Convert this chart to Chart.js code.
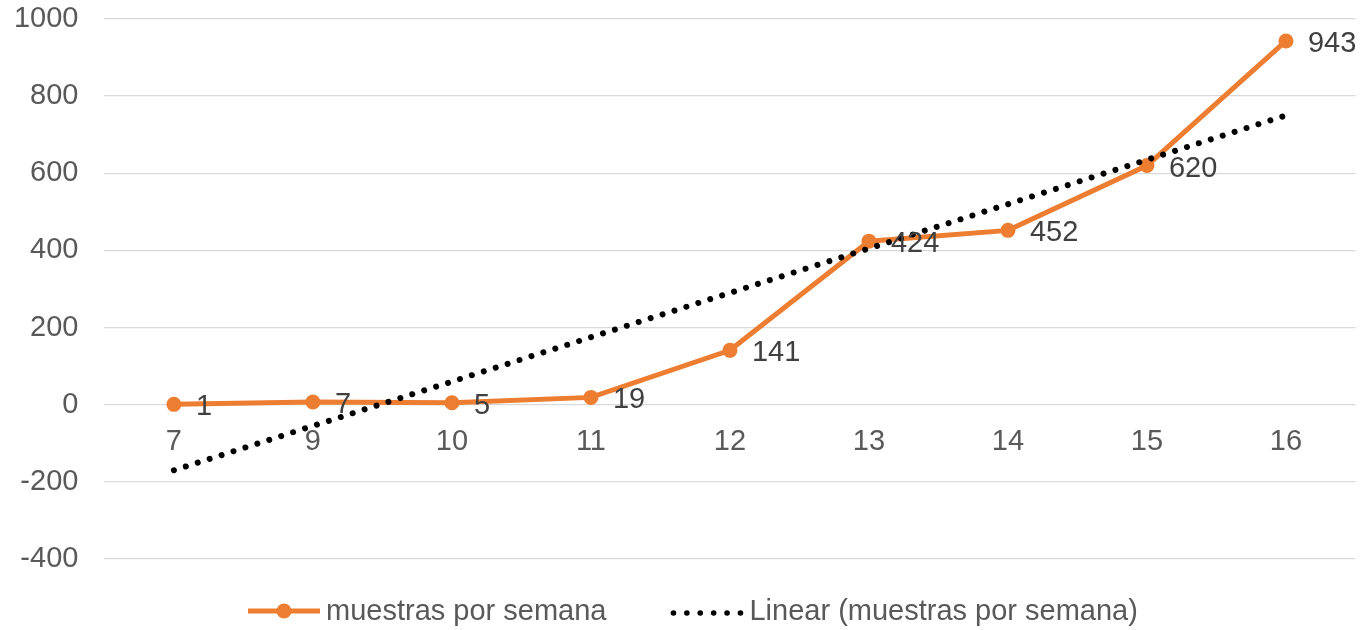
<!DOCTYPE html>
<html>
<head>
<meta charset="utf-8">
<script src="https://cdn.jsdelivr.net/npm/chart.js@4"></script>
<style>
  body { margin: 0; background: #fff; }
  #wrap { width: 1363px; height: 630px; position: relative; }
</style>
</head>
<body>
<div id="wrap"><canvas id="chart"></canvas></div>
<script>
// data
const weeks = ['7', '9', '10', '11', '12', '13', '14', '15', '16'];
const samples = [1, 7, 5, 19, 141, 424, 452, 620, 943];
// trend line ends (first and last week), gaps in between
const trend = [-170, null, null, null, null, null, null, null, 750];
const yTicks = [-400, -200, 0, 200, 400, 600, 800, 1000];

const ORANGE = '#ED7D31';
const FONT = 'Liberation Sans, Arial, sans-serif';

// value labels next to each point
const pointLabels = {
    id: 'pointLabels',
    afterDatasetsDraw(chart) {
        const ctx = chart.ctx;
        const meta = chart.getDatasetMeta(0);
        ctx.save();
        ctx.font = '29px ' + FONT;
        ctx.fillStyle = '#404040';
        ctx.textAlign = 'left';
        ctx.textBaseline = 'middle';
        meta.data.forEach((pt, i) => {
            ctx.fillText(String(samples[i]), pt.x + 22, pt.y + 3);
        });
        ctx.restore();
    }
};

// legend drawn like the Excel one
const bottomLegend = {
    id: 'bottomLegend',
    afterDraw(chart) {
        const ctx = chart.ctx;
        const y = 611;
        ctx.save();
        ctx.font = '29px ' + FONT;
        ctx.fillStyle = '#595959';
        ctx.textAlign = 'left';
        ctx.textBaseline = 'middle';

        // item 1: orange line with marker
        let x = 248;
        ctx.strokeStyle = ORANGE;
        ctx.lineWidth = 5;
        ctx.beginPath();
        ctx.moveTo(x, y);
        ctx.lineTo(x + 72, y);
        ctx.stroke();
        ctx.fillStyle = ORANGE;
        ctx.beginPath();
        ctx.arc(x + 36, y, 7.5, 0, Math.PI * 2);
        ctx.fill();
        ctx.fillStyle = '#595959';
        const t1 = chart.data.datasets[0].label;
        ctx.fillText(t1, x + 78, y + 1);
        x = x + 78 + ctx.measureText(t1).width + 65;

        // item 2: dotted black line
        ctx.fillStyle = '#000';
        for (let i = 0; i < 6; i++) {
            ctx.beginPath();
            ctx.arc(x + 2 + i * 13.4, y + 2, 2.8, 0, Math.PI * 2);
            ctx.fill();
        }
        ctx.fillStyle = '#595959';
        ctx.fillText(chart.data.datasets[1].label, x + 78, y + 1);
        ctx.restore();
    }
};

const ctx = document.getElementById('chart').getContext('2d');

const chart = new Chart(ctx, {
    type: 'line',
    data: {
        labels: weeks,
        datasets: [{
            label: 'muestras por semana',
            data: samples,
            borderColor: ORANGE,
            backgroundColor: ORANGE,
            borderWidth: 5,
            pointRadius: 7.5,
            pointBorderWidth: 0,
            pointBackgroundColor: ORANGE,
            tension: 0,
            order: 1
        }, {
            label: 'Linear (muestras por semana)',
            data: trend,
            borderColor: '#000',
            borderWidth: 6,
            borderCapStyle: 'round',
            borderDash: [0.01, 12.5],
            pointRadius: 0,
            spanGaps: true,
            tension: 0,
            order: 0
        }]
    },
    options: {
        responsive: true,
        maintainAspectRatio: false,
        animation: false,
        layout: {
            padding: { left: 0, right: 6.4, top: 19, bottom: 71 }
        },
        plugins: {
            legend: { display: false },
            tooltip: { enabled: false }
        },
        scales: {
            x: {
                type: 'category',
                offset: true,
                position: { y: 0 },
                afterFit(scale) {
                    scale.height = 0;
                    scale.paddingTop = 0;
                    scale.paddingBottom = 0;
                },
                grid: { display: false, drawTicks: false },
                border: { display: false },
                ticks: {
                    color: '#595959',
                    font: { family: FONT, size: 29 },
                    padding: 20,
                    maxRotation: 0
                }
            },
            y: {
                min: -400,
                max: 1000,
                afterFit(scale) {
                    scale.width = 104.4;
                    scale.paddingTop = 0;
                    scale.paddingBottom = 0;
                },
                afterBuildTicks(scale) {
                    scale.ticks = yTicks.map(v => ({ value: v }));
                },
                grid: { color: '#d9d9d9', lineWidth: 1.3, drawTicks: false },
                border: { display: false },
                ticks: {
                    color: '#595959',
                    font: { family: FONT, size: 29 },
                    padding: 26,
                    callback: v => String(v)
                }
            }
        }
    },
    plugins: [pointLabels, bottomLegend]
});
</script>
</body>
</html>
